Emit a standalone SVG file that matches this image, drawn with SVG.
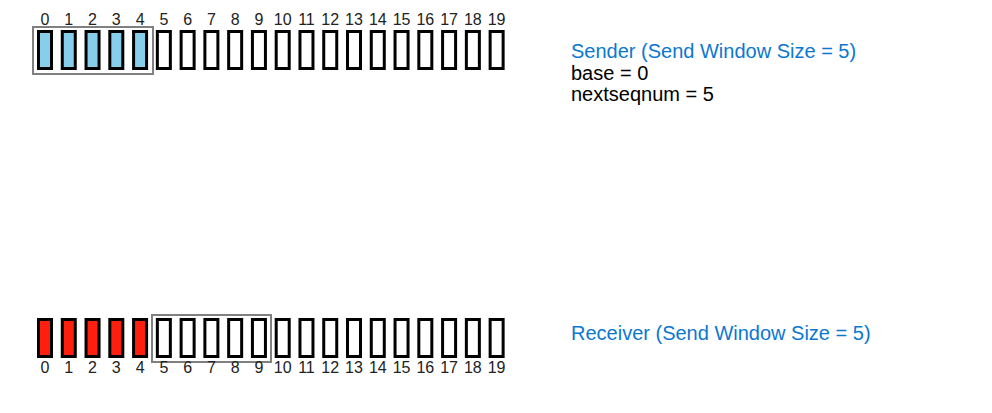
<svg xmlns="http://www.w3.org/2000/svg" width="992" height="413" viewBox="0 0 992 413">
<style>
.b{fill:#fff;stroke:#000;stroke-width:3}
.s{fill:#87CEEB}
.r{fill:#FF1F0F}
.w{fill:none;stroke:#808080;stroke-width:2}
.n{font-family:"Liberation Sans",Arial,sans-serif;font-size:16px;fill:#222;text-anchor:middle}
.t{font-family:"Liberation Sans",Arial,sans-serif;font-size:20px;fill:#000}
.h{fill:#0B78D0}
</style>
<defs>
<rect id="box" x="-6.5" y="0" width="13" height="37"/>
</defs>
<g id="sender">
<g id="sender-boxes">
<use href="#box" class="b s" x="45" y="31.5"/>
<use href="#box" class="b s" x="68.77" y="31.5"/>
<use href="#box" class="b s" x="92.54" y="31.5"/>
<use href="#box" class="b s" x="116.31" y="31.5"/>
<use href="#box" class="b s" x="140.08" y="31.5"/>
<use href="#box" class="b" x="163.85" y="31.5"/>
<use href="#box" class="b" x="187.62" y="31.5"/>
<use href="#box" class="b" x="211.39" y="31.5"/>
<use href="#box" class="b" x="235.16" y="31.5"/>
<use href="#box" class="b" x="258.93" y="31.5"/>
<use href="#box" class="b" x="282.7" y="31.5"/>
<use href="#box" class="b" x="306.47" y="31.5"/>
<use href="#box" class="b" x="330.24" y="31.5"/>
<use href="#box" class="b" x="354.01" y="31.5"/>
<use href="#box" class="b" x="377.78" y="31.5"/>
<use href="#box" class="b" x="401.55" y="31.5"/>
<use href="#box" class="b" x="425.32" y="31.5"/>
<use href="#box" class="b" x="449.09" y="31.5"/>
<use href="#box" class="b" x="472.86" y="31.5"/>
<use href="#box" class="b" x="496.63" y="31.5"/>
</g>
<rect id="sender-window" class="w" x="33" y="27" width="120" height="47"/>
<g id="sender-numbers" class="n">
<text x="45" y="25">0</text><text x="68.77" y="25">1</text><text x="92.54" y="25">2</text><text x="116.31" y="25">3</text><text x="140.08" y="25">4</text><text x="163.85" y="25">5</text><text x="187.62" y="25">6</text><text x="211.39" y="25">7</text><text x="235.16" y="25">8</text><text x="258.93" y="25">9</text><text x="282.7" y="25">10</text><text x="306.47" y="25">11</text><text x="330.24" y="25">12</text><text x="354.01" y="25">13</text><text x="377.78" y="25">14</text><text x="401.55" y="25">15</text><text x="425.32" y="25">16</text><text x="449.09" y="25">17</text><text x="472.86" y="25">18</text><text x="496.63" y="25">19</text>
</g>
<text class="t h" x="571" y="58">Sender (Send Window Size = 5)</text>
<text class="t" x="571" y="80">base = 0</text>
<text class="t" x="571" y="101">nextseqnum = 5</text>
</g>
<g id="receiver">
<g id="receiver-boxes">
<use href="#box" class="b r" x="45" y="319.5"/>
<use href="#box" class="b r" x="68.77" y="319.5"/>
<use href="#box" class="b r" x="92.54" y="319.5"/>
<use href="#box" class="b r" x="116.31" y="319.5"/>
<use href="#box" class="b r" x="140.08" y="319.5"/>
<use href="#box" class="b" x="163.85" y="319.5"/>
<use href="#box" class="b" x="187.62" y="319.5"/>
<use href="#box" class="b" x="211.39" y="319.5"/>
<use href="#box" class="b" x="235.16" y="319.5"/>
<use href="#box" class="b" x="258.93" y="319.5"/>
<use href="#box" class="b" x="282.7" y="319.5"/>
<use href="#box" class="b" x="306.47" y="319.5"/>
<use href="#box" class="b" x="330.24" y="319.5"/>
<use href="#box" class="b" x="354.01" y="319.5"/>
<use href="#box" class="b" x="377.78" y="319.5"/>
<use href="#box" class="b" x="401.55" y="319.5"/>
<use href="#box" class="b" x="425.32" y="319.5"/>
<use href="#box" class="b" x="449.09" y="319.5"/>
<use href="#box" class="b" x="472.86" y="319.5"/>
<use href="#box" class="b" x="496.63" y="319.5"/>
</g>
<rect id="receiver-window" class="w" x="152" y="315" width="119" height="47"/>
<g id="receiver-numbers" class="n">
<text x="45" y="373">0</text><text x="68.77" y="373">1</text><text x="92.54" y="373">2</text><text x="116.31" y="373">3</text><text x="140.08" y="373">4</text><text x="163.85" y="373">5</text><text x="187.62" y="373">6</text><text x="211.39" y="373">7</text><text x="235.16" y="373">8</text><text x="258.93" y="373">9</text><text x="282.7" y="373">10</text><text x="306.47" y="373">11</text><text x="330.24" y="373">12</text><text x="354.01" y="373">13</text><text x="377.78" y="373">14</text><text x="401.55" y="373">15</text><text x="425.32" y="373">16</text><text x="449.09" y="373">17</text><text x="472.86" y="373">18</text><text x="496.63" y="373">19</text>
</g>
<text class="t h" x="571" y="340">Receiver (Send Window Size = 5)</text>
</g>
<g id="connectors"/>
</svg>
